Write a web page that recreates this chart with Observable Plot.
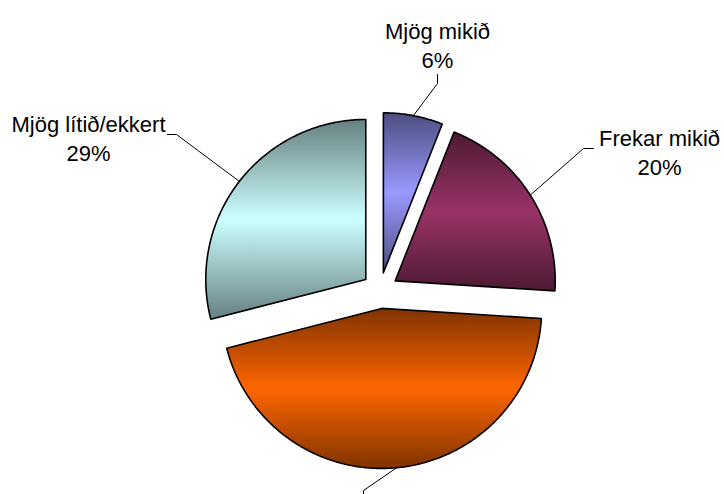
<!DOCTYPE html>
<html><head><meta charset="utf-8">
<script src="https://cdn.jsdelivr.net/npm/d3@7"></script>
<script src="https://cdn.jsdelivr.net/npm/@observablehq/plot@0.6"></script>
<style>html,body{margin:0;padding:0;background:#fff;overflow:hidden}</style>
</head><body><div id="chart"></div>
<script>
// ---- data ----
const categories = ["Mjög mikið", "Frekar mikið", "Frekar lítið", "Mjög lítið/ekkert"];
const values = [6, 20, 45, 29];
const showLabel = [true, true, false, true];
const baseColors = ["#9999ff", "#993366", "#ff6600", "#ccffff"];

// ---- layout ----
const W = 724, H = 494;
const pie = {cx: 379.5, cy: 290, r: 160, explode: 18};
const labelLayout = [
  {elbow: [437, 83], end: [437, 74], text: [437, 18]},
  {elbow: [583, 148], end: [593, 148], text: [659, 125]},
  {elbow: [363, 490], end: [363, 494], text: [363, 520]},
  {elbow: [176, 134], end: [167, 134], text: [88, 111]}
];

const total = d3.sum(values);
const data = categories.map((c, i) => ({key: i, name: c, value: values[i]}));
const arcs = d3.pie().sort(null).value(d => d.value)(data);

const slicePts = [];
const leaderPts = [];
const labels = [];
arcs.forEach((a, i) => {
  const mid = (a.startAngle + a.endAngle) / 2;
  const ox = pie.cx + pie.explode * Math.sin(mid);
  const oy = pie.cy - pie.explode * Math.cos(mid);
  slicePts.push({k: i, x: ox, y: oy});
  const n = Math.max(8, Math.ceil((a.endAngle - a.startAngle) / 0.01));
  for (let j = 0; j <= n; j++) {
    const t = a.startAngle + (a.endAngle - a.startAngle) * j / n;
    slicePts.push({k: i, x: ox + pie.r * Math.sin(t), y: oy - pie.r * Math.cos(t)});
  }
  slicePts.push({k: i, x: ox, y: oy});
  const L = labelLayout[i];
  leaderPts.push({k: i, x: ox + pie.r * Math.sin(mid), y: oy - pie.r * Math.cos(mid)});
  leaderPts.push({k: i, x: L.elbow[0], y: L.elbow[1]});
  leaderPts.push({k: i, x: L.end[0], y: L.end[1]});
  if (showLabel[i]) {
    labels.push({x: L.text[0], y: L.text[1], text: `${a.data.name}\n${Math.round(a.data.value / total * 100)}%`});
  }
});

const svg = Plot.plot({
  width: W, height: H, margin: 0,
  x: {domain: [0, W], range: [0, W], axis: null},
  y: {domain: [0, H], range: [0, H], axis: null},
  color: {type: "identity"},
  marks: [
    Plot.line(slicePts, {x: "x", y: "y", z: "k", fill: d => `url(#grad${d.k})`, stroke: "#000", strokeWidth: 1.6, strokeLinejoin: "miter"}),
    Plot.line(leaderPts, {x: "x", y: "y", z: "k", stroke: "#000", strokeWidth: 1}),
    Plot.text(labels, {x: "x", y: "y", text: "text", fontSize: 22, lineHeight: 1.32, lineAnchor: "top", textAnchor: "middle", fill: "#000", fontFamily: "Liberation Sans, Arial, sans-serif"})
  ]
});

const defs = d3.select(svg).insert("defs", ":first-child");
baseColors.forEach((c, i) => {
  const dark = d3.interpolateRgb(c, "#000")(0.5);
  const g = defs.append("linearGradient").attr("id", "grad" + i)
    .attr("x1", 0).attr("y1", 0).attr("x2", 0).attr("y2", 1);
  g.append("stop").attr("offset", "0%").attr("stop-color", dark);
  g.append("stop").attr("offset", "50%").attr("stop-color", c);
  g.append("stop").attr("offset", "100%").attr("stop-color", dark);
});

document.getElementById("chart").appendChild(svg);
</script>
</body></html>
